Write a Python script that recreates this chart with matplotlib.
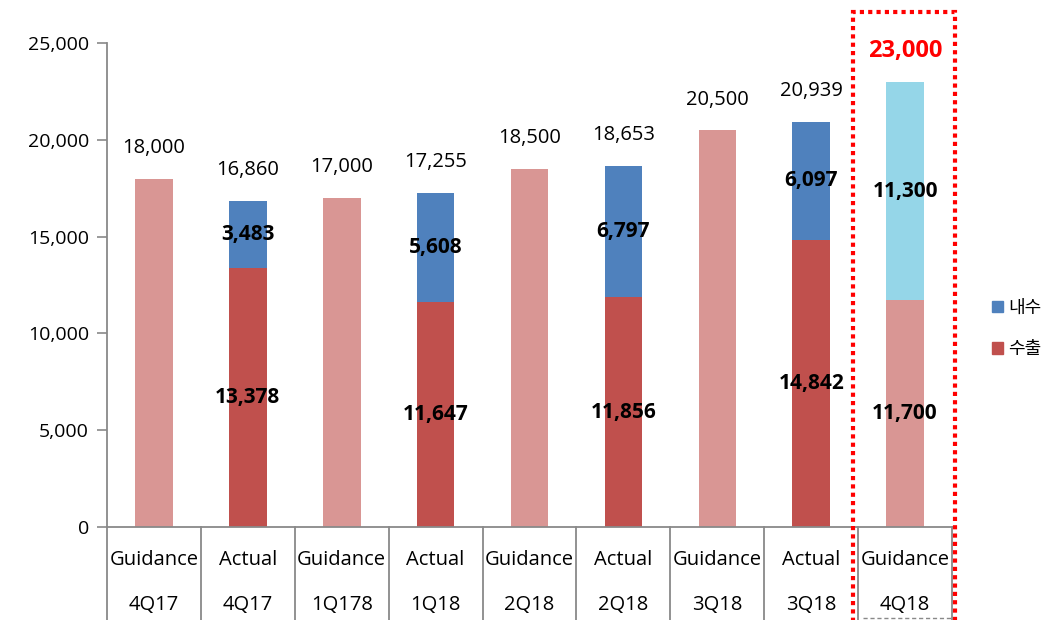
from __future__ import annotations

import matplotlib

matplotlib.use("Agg")
import matplotlib.pyplot as plt
from matplotlib.patches import Patch, Rectangle

# --- Data
row_top = ["Guidance", "Actual", "Guidance", "Actual", "Guidance", "Actual", "Guidance", "Actual", "Guidance"]
row_bottom = ["4Q17", "4Q17", "1Q178", "1Q18", "2Q18", "2Q18", "3Q18", "3Q18", "4Q18"]

guidance_idx = [0, 2, 4, 6]
guidance_vals = [18000, 17000, 18500, 20500]

actual_idx = [1, 3, 5, 7]
actual_export = [13378, 11647, 11856, 14842]
actual_domestic = [3483, 5608, 6797, 6097]
actual_total = [16860, 17255, 18653, 20939]

target_idx = [8]
target_export = [11700]
target_domestic = [11300]
target_total = [23000]

yticks = [0, 5000, 10000, 15000, 20000, 25000]

C_GUIDE = "#D99694"
C_EXPORT = "#C0504D"
C_DOMESTIC = "#4F81BD"
C_TARGET_DOM = "#95D6E8"
C_GRID = "#898989"


def main() -> int:
    plt.rcParams["font.family"] = ["Open Sans", "Noto Sans CJK KR", "DejaVu Sans"]

    fig = plt.figure(figsize=(10.5, 6.2), dpi=100)
    ax = fig.add_axes([107 / 1050, 1 - 527 / 620, (952 - 107) / 1050, (527 - 43) / 620])

    width = 0.4

    ax.bar(guidance_idx, guidance_vals, width=width, color=C_GUIDE)
    ax.bar(actual_idx, actual_export, width=width, color=C_EXPORT)
    ax.bar(actual_idx, actual_domestic, width=width, bottom=actual_export, color=C_DOMESTIC)
    ax.bar(target_idx, target_export, width=width, color=C_GUIDE)
    ax.bar(target_idx, target_domestic, width=width, bottom=target_export, color=C_TARGET_DOM)

    def _top_label(x, v, color="black", size=14.5, weight="normal"):
        ax.annotate(f"{v:,}", (x, v), xytext=(0, 22), textcoords="offset points",
                    ha="center", va="center", fontsize=size, color=color, fontweight=weight)

    def _mid_label(x, bottom, v):
        ax.text(x, bottom + v / 2, f"{v:,}", ha="center", va="center",
                fontsize=15, fontweight="bold", color="black")

    for x, v in zip(guidance_idx, guidance_vals):
        _top_label(x, v)
    for x, e, d, t in zip(actual_idx, actual_export, actual_domestic, actual_total):
        _mid_label(x, 0, e)
        _mid_label(x, e, d)
        _top_label(x, t)
    for x, e, d, t in zip(target_idx, target_export, target_domestic, target_total):
        _mid_label(x, 0, e)
        _mid_label(x, e, d)
        _top_label(x, t, color="#FF0000", size=17, weight="bold")

    ax.set_xlim(-0.5, len(row_top) - 0.5)
    ax.set_ylim(0, 25000)
    ax.set_yticks(yticks)
    ax.set_yticklabels([f"{v:,}" for v in yticks], fontsize=14)
    ax.set_xticks([])
    ax.tick_params(axis="y", length=7, width=1.2, color=C_GRID, pad=6)

    for side in ("top", "right"):
        ax.spines[side].set_visible(False)
    for side in ("left", "bottom"):
        ax.spines[side].set_color(C_GRID)
        ax.spines[side].set_linewidth(1.3)

    # --- Category table under the axis
    trans = ax.get_xaxis_transform()
    for i in range(len(row_top) + 1):
        ax.plot([i - 0.5, i - 0.5], [0, -0.2], transform=trans, color=C_GRID,
                lw=1.3, clip_on=False)
    for i, (top, bot) in enumerate(zip(row_top, row_bottom)):
        ax.text(i, -0.068, top, transform=trans, ha="center", va="center", fontsize=14.5)
        ax.text(i, -0.161, bot, transform=trans, ha="center", va="center", fontsize=14.5)
    ax.plot([7.55, 8.5], [-0.188, -0.188], transform=trans, color=C_GRID, lw=1,
            ls=(0, (3, 2)), clip_on=False)

    # --- Red dotted highlight box around the 4Q18 guidance
    fig.patches.append(Rectangle((853 / 1050, -0.02), (955 - 853) / 1050, 1 - 12 / 620 + 0.02,
                                 transform=fig.transFigure, fill=False, edgecolor="#FF0000",
                                 lw=3, ls=(0, (1, 1))))

    handles = [Patch(color=C_DOMESTIC, label="내수"), Patch(color=C_EXPORT, label="수출")]
    fig.legend(handles=handles, loc="center left", bbox_to_anchor=(992 / 1050, 0.47),
               frameon=False, fontsize=13, handlelength=0.6, handleheight=0.6,
               handletextpad=0.3, labelspacing=1.3, borderpad=0, borderaxespad=0)

    fig.savefig("out.png", dpi=100)
    plt.close(fig)
    return 0


if __name__ == "__main__":
    raise SystemExit(main())
